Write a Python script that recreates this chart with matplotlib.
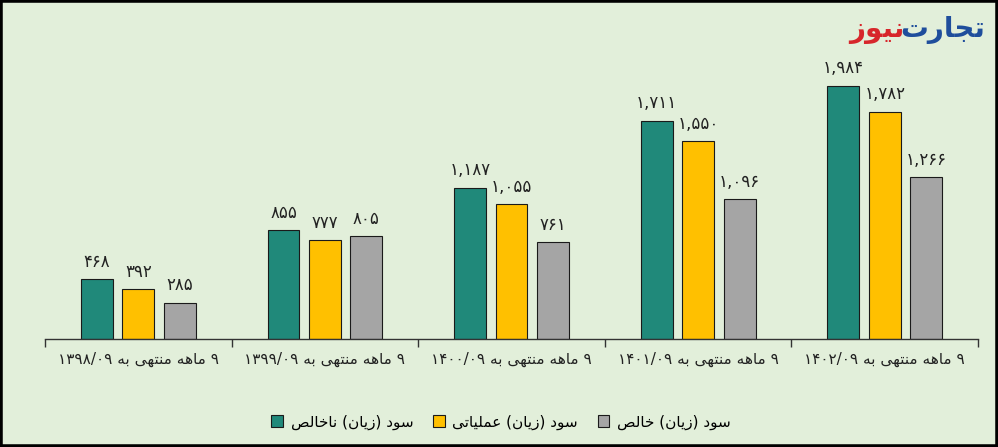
import re
import unicodedata
import matplotlib
matplotlib.use('Agg')
import matplotlib.pyplot as plt
from matplotlib.patches import Rectangle

# data
periods = ['۱۳۹۸/۰۹', '۱۳۹۹/۰۹', '۱۴۰۰/۰۹', '۱۴۰۱/۰۹', '۱۴۰۲/۰۹']
gross_profit = [468, 855, 1187, 1711, 1984]
operating_profit = [392, 777, 1055, 1550, 1782]
net_profit = [285, 805, 761, 1096, 1266]
series_names = ['سود (زیان) ناخالص', 'سود (زیان) عملیاتی', 'سود (زیان) خالص']
colors = ['#20897a', '#ffc000', '#a5a5a5']

BG = '#e2efda'
RIGHT_ONLY = set('اآأإدذرزژوؤة')
FA_DIGITS = str.maketrans('0123456789', '۰۱۲۳۴۵۶۷۸۹')


def is_letter(c):
    return '\u0620' <= c <= '\u064A' or c in 'پچژکگی'


def form(c, f):
    try:
        return unicodedata.lookup(unicodedata.name(c) + ' ' + f + ' FORM')
    except KeyError:
        return c


def fa(text):
    # poor man's arabic shaping + rtl reorder (matplotlib does not do it)
    out = []
    for i, c in enumerate(text):
        if not is_letter(c):
            out.append(c)
            continue
        prev = text[i - 1] if i > 0 else ''
        nxt = text[i + 1] if i + 1 < len(text) else ''
        jp = prev != '' and is_letter(prev) and prev not in RIGHT_ONLY
        jn = c not in RIGHT_ONLY and nxt != '' and is_letter(nxt)
        f = 'MEDIAL' if jp and jn else 'FINAL' if jp else 'INITIAL' if jn else 'ISOLATED'
        out.append(form(c, f))
    s = ''.join(out)
    tokens = re.findall(r'[0-9۰-۹]+(?:[/,.][0-9۰-۹]+)*|.', s)
    mirror = {'(': ')', ')': '('}
    return ''.join(mirror.get(t, t) for t in reversed(tokens))


def fa_num(v):
    return f'{v:,}'.translate(FA_DIGITS)


plt.rcParams['font.family'] = ['DejaVu Sans']

fig = plt.figure(figsize=(9.98, 4.47), dpi=100, facecolor=BG)
ax = fig.add_axes([0.0451, 0.2416, 0.9349, 0.669])
ax.set_facecolor(BG)

x = list(range(len(periods)))
width = 0.171
step = 0.222
all_series = [gross_profit, operating_profit, net_profit]
for k, (vals, col, name) in enumerate(zip(all_series, colors, series_names)):
    pos = [i + (k - 1) * step for i in x]
    bars = ax.bar(pos, vals, width, color=col, edgecolor='#1a1a1a', linewidth=0.8,
                  label=fa(name))
    for b, v in zip(bars, vals):
        ax.annotate(fa_num(v), (b.get_x() + b.get_width() / 2, v),
                    xytext=(0, 6), textcoords='offset points',
                    ha='center', va='bottom', fontsize=12, color='#222222')

ax.set_xlim(-0.5, len(periods) - 0.5)
ax.set_ylim(0, 2343)
ax.set_yticks([])
for sp in ['top', 'right', 'left']:
    ax.spines[sp].set_visible(False)
ax.spines['bottom'].set_color('#333333')
ax.spines['bottom'].set_linewidth(1)

ax.set_xticks(x)
ax.set_xticklabels([fa('۹ ماهه منتهی به ' + p) for p in periods], fontsize=11, color='#222222')
ax.tick_params(axis='x', which='major', length=0, pad=9)
ax.set_xticks([i - 0.5 for i in range(len(periods) + 1)], minor=True)
ax.tick_params(axis='x', which='minor', length=6, color='#333333', width=1)

ax.legend(loc='center', bbox_to_anchor=(0.502, 0.056), bbox_transform=fig.transFigure,
          ncol=3, frameon=False, fontsize=11, handlelength=0.75, handleheight=0.75,
          handletextpad=0.5, columnspacing=1.3)

# logo
fig.text(985 / 998, 1 - 30 / 447, fa('تجارت'), ha='right', va='center',
         fontsize=20, fontweight='bold', color='#1f4e9c')
fig.text(904 / 998, 1 - 30 / 447, fa('نیوز'), ha='right', va='center',
         fontsize=20, fontweight='bold', color='#d7262b')

fig.add_artist(Rectangle((0, 0), 1, 1, transform=fig.transFigure, fill=False,
                         edgecolor='black', linewidth=4))

fig.savefig('out.png', dpi=100, facecolor=BG)
